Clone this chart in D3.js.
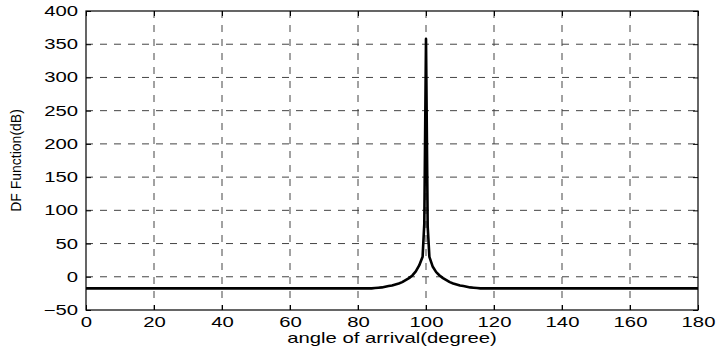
<!DOCTYPE html>
<html>
<head>
<meta charset="utf-8">
<script src="https://cdn.jsdelivr.net/npm/d3@7"></script>
<style>
  body { margin: 0; background: #fff; }
  text { font-family: "Liberation Sans", Arial, sans-serif; fill: #000; }
</style>
</head>
<body>
<div id="chart"></div>
<script>
// data
const xTicks = [0, 20, 40, 60, 80, 100, 120, 140, 160, 180];
const yTicks = [-50, 0, 50, 100, 150, 200, 250, 300, 350, 400];

const angles = [0, 84, 85, 86, 87, 88, 89, 90, 91, 92, 93, 94, 95, 96, 97, 98, 99, 99.5, 100,
  100.5, 101, 102, 103, 104, 105, 106, 107, 108, 109, 110, 111, 112, 113, 114, 115, 116, 180];
const dfValues = [-17.5, -17.5, -17, -16.5, -16, -15, -14, -13, -11.5, -10, -8, -5, -2, 2, 8, 17, 30, 80, 358,
  75, 30, 15, 7, 2, -2, -5, -8, -10, -11.5, -13, -14, -15, -16, -16.5, -17, -17.5, -17.5];

const width = 716, height = 353;
const margin = { left: 86, right: 18, top: 11, bottom: 43 };
const innerW = width - margin.left - margin.right;
const innerH = height - margin.top - margin.bottom;
const stretch = 1.45; // the reference font is drawn wide

const svg = d3.select('#chart').append('svg')
  .attr('width', width)
  .attr('height', height);

const g = svg.append('g')
  .attr('transform', 'translate(' + margin.left + ',' + margin.top + ')');

const x = d3.scaleLinear().domain([0, 180]).range([0, innerW]);
const y = d3.scaleLinear().domain([-50, 400]).range([innerH, 0]);

// dashed grid
g.append('g').selectAll('line')
  .data(xTicks.slice(1, -1))
  .join('line')
  .attr('x1', d => x(d)).attr('x2', d => x(d))
  .attr('y1', 0).attr('y2', innerH)
  .attr('stroke', '#444').attr('stroke-dasharray', '7,7');

g.append('g').selectAll('line')
  .data(yTicks.slice(1, -1))
  .join('line')
  .attr('x1', 0).attr('x2', innerW)
  .attr('y1', d => y(d)).attr('y2', d => y(d))
  .attr('stroke', '#444').attr('stroke-dasharray', '7,7');

// axes with inward ticks
const tickLen = 5;
const axBottom = g.append('g')
  .attr('transform', 'translate(0,' + innerH + ')')
  .call(d3.axisBottom(x).tickValues(xTicks).tickSizeInner(-tickLen).tickSizeOuter(0).tickPadding(7));
const axLeft = g.append('g')
  .call(d3.axisLeft(y).tickValues(yTicks).tickSizeInner(-tickLen).tickSizeOuter(0).tickPadding(8));
const axTop = g.append('g')
  .call(d3.axisTop(x).tickValues(xTicks).tickSizeInner(-tickLen).tickSizeOuter(0).tickFormat(''));
const axRight = g.append('g')
  .attr('transform', 'translate(' + innerW + ',0)')
  .call(d3.axisRight(y).tickValues(yTicks).tickSizeInner(-tickLen).tickSizeOuter(0).tickFormat(''));

[axBottom, axLeft, axTop, axRight].forEach(a => {
  a.select('.domain').remove();
  a.selectAll('line').attr('stroke', '#000');
  a.selectAll('text')
    .style('font-size', '14px')
    .attr('font-family', '"Liberation Sans", Arial, sans-serif')
    .attr('x', function () { return (+d3.select(this).attr('x') || 0) / stretch; })
    .attr('transform', 'scale(' + stretch + ',1)');
});

// frame
g.append('rect')
  .attr('width', innerW).attr('height', innerH)
  .attr('fill', 'none').attr('stroke', '#000').attr('stroke-width', 1.2);

// curve
const pts = angles.map((a, i) => [a, dfValues[i]]);
g.append('path')
  .datum(pts)
  .attr('fill', 'none')
  .attr('stroke', '#000')
  .attr('stroke-width', 2.6)
  .attr('stroke-linejoin', 'round')
  .attr('d', d3.line().x(d => x(d[0])).y(d => y(d[1])));

// labels
svg.append('text')
  .attr('transform', 'translate(' + (margin.left + innerW / 2) + ',343) scale(' + stretch + ',1)')
  .attr('text-anchor', 'middle')
  .style('font-size', '14px')
  .text('angle of arrival(degree)');

svg.append('text')
  .attr('transform', 'translate(21,' + (margin.top + innerH / 2) + ') rotate(-90)')
  .attr('text-anchor', 'middle')
  .style('font-size', '14px')
  .text('DF Function(dB)');
</script>
</body>
</html>
